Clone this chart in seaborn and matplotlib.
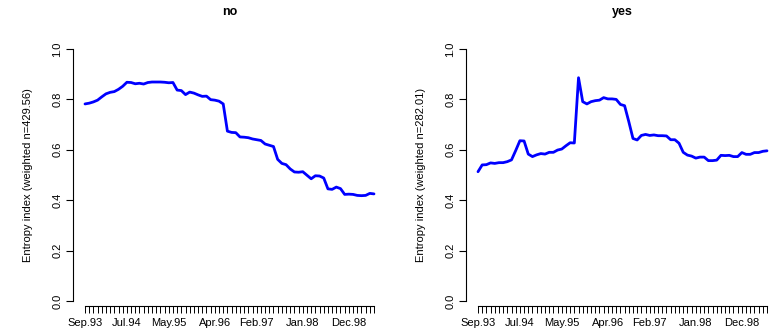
import matplotlib
matplotlib.use("Agg")
import matplotlib.pyplot as plt
import seaborn as sns
import numpy as np
import pandas as pd

# ---- data ----
months = ["Sep.93", "Oct.93", "Nov.93", "Dec.93", "Jan.94", "Feb.94", "Mar.94", "Apr.94", "May.94", "Jun.94",
          "Jul.94", "Aug.94", "Sep.94", "Oct.94", "Nov.94", "Dec.94", "Jan.95", "Feb.95", "Mar.95", "Apr.95",
          "May.95", "Jun.95", "Jul.95", "Aug.95", "Sep.95", "Oct.95", "Nov.95", "Dec.95", "Jan.96", "Feb.96",
          "Mar.96", "Apr.96", "May.96", "Jun.96", "Jul.96", "Aug.96", "Sep.96", "Oct.96", "Nov.96", "Dec.96",
          "Jan.97", "Feb.97", "Mar.97", "Apr.97", "May.97", "Jun.97", "Jul.97", "Aug.97", "Sep.97", "Oct.97",
          "Nov.97", "Dec.97", "Jan.98", "Feb.98", "Mar.98", "Apr.98", "May.98", "Jun.98", "Jul.98", "Aug.98",
          "Sep.98", "Oct.98", "Nov.98", "Dec.98", "Jan.99", "Feb.99", "Mar.99", "Apr.99", "May.99", "Jun.99"]
labelled_months = ["Sep.93", "Jul.94", "May.95", "Apr.96", "Feb.97", "Jan.98", "Dec.98"]

no_vals = [0.782, 0.785, 0.790, 0.797, 0.810, 0.822, 0.828, 0.831, 0.840, 0.852,
           0.868, 0.867, 0.862, 0.864, 0.861, 0.867, 0.869, 0.869, 0.869, 0.868,
           0.866, 0.867, 0.837, 0.835, 0.819, 0.829, 0.825, 0.818, 0.812, 0.813,
           0.799, 0.797, 0.793, 0.782, 0.674, 0.669, 0.668, 0.651, 0.650, 0.648,
           0.643, 0.640, 0.637, 0.623, 0.618, 0.613, 0.562, 0.546, 0.541, 0.524,
           0.512, 0.511, 0.513, 0.499, 0.485, 0.497, 0.496, 0.488, 0.445, 0.443,
           0.452, 0.446, 0.423, 0.424, 0.423, 0.419, 0.418, 0.419, 0.427, 0.425]

yes_vals = [0.513, 0.540, 0.541, 0.548, 0.546, 0.549, 0.549, 0.553, 0.560, 0.597,
            0.636, 0.635, 0.583, 0.573, 0.580, 0.585, 0.583, 0.590, 0.590, 0.599,
            0.603, 0.616, 0.628, 0.627, 0.886, 0.791, 0.782, 0.791, 0.795, 0.797,
            0.807, 0.802, 0.802, 0.800, 0.780, 0.775, 0.712, 0.645, 0.639, 0.657,
            0.661, 0.657, 0.659, 0.656, 0.656, 0.655, 0.640, 0.640, 0.626, 0.590,
            0.579, 0.575, 0.567, 0.571, 0.571, 0.557, 0.557, 0.559, 0.578, 0.577,
            0.578, 0.573, 0.573, 0.589, 0.582, 0.582, 0.589, 0.589, 0.594, 0.596]

panel_titles = ["no", "yes"]
y_labels = ["Entropy index (weighted n=429.56)", "Entropy index (weighted n=282.01)"]
y_ticks = [0.0, 0.2, 0.4, 0.6, 0.8, 1.0]

sns.set_style("white")
plt.rcParams["font.family"] = ["Liberation Sans", "DejaVu Sans"]
plt.rcParams["text.color"] = "black"
plt.rcParams["axes.labelcolor"] = "black"
plt.rcParams["xtick.color"] = "black"
plt.rcParams["ytick.color"] = "black"

W, H = 770, 334
fig = plt.figure(figsize=(W / 100, H / 100), dpi=100)

n = len(months)
idx = np.arange(n)
pad = 0.04 * (n - 1)
px_per = 289.0 / (n - 1)
ax_w_px = (n - 1 + 2 * pad) * px_per
left_px = [85 - pad * px_per, 478 - pad * px_per]
bottom_px, top_px = 306, 39
# y mapping: v = (301 - ypix)/252
ylo = (301 - bottom_px) / 252.0
yhi = (301 - top_px) / 252.0

for k, (vals, title, ylab) in enumerate(zip([no_vals, yes_vals], panel_titles, y_labels)):
    ax = fig.add_axes([left_px[k] / W, (H - bottom_px) / H, ax_w_px / W, (bottom_px - top_px) / H])
    df = pd.DataFrame({"month": idx, "value": vals})
    sns.lineplot(data=df, x="month", y="value", ax=ax, color="#0000FF", linewidth=2.0)
    ax.set_xlim(-pad, n - 1 + pad)
    ax.set_ylim(ylo, yhi)
    for s in ["top", "right"]:
        ax.spines[s].set_visible(False)
    for s in ["left", "bottom"]:
        ax.spines[s].set_color("black")
        ax.spines[s].set_linewidth(0.8)
    ax.spines["left"].set_bounds(0, 1)
    ax.spines["bottom"].set_bounds(0, n - 1)
    ax.set_xticks(idx)
    ax.set_xticklabels([m if m in labelled_months else "" for m in months])
    ax.set_yticks(y_ticks)
    ax.set_yticklabels([f"{t:.1f}" for t in y_ticks], rotation=90, va="center")
    ax.tick_params(axis="x", direction="out", length=5, width=0.7, colors="black",
                   labelsize=8, pad=3.5, bottom=True)
    ax.tick_params(axis="y", direction="out", length=5, width=0.8, colors="black",
                   labelsize=8, pad=3, left=True)
    ax.set_xlabel("")
    ax.set_ylabel(ylab, fontsize=8, color="black")
    ax.yaxis.set_label_coords(-40.0 / ax_w_px, (bottom_px - 175) / (bottom_px - top_px))
    ax.grid(False)
    cx = (left_px[k] + ax_w_px / 2) / W
    fig.text(cx, 1 - 12 / H, title, ha="center", va="center", fontsize=9,
             fontweight="bold", color="black")

fig.savefig("out.png", dpi=100)
